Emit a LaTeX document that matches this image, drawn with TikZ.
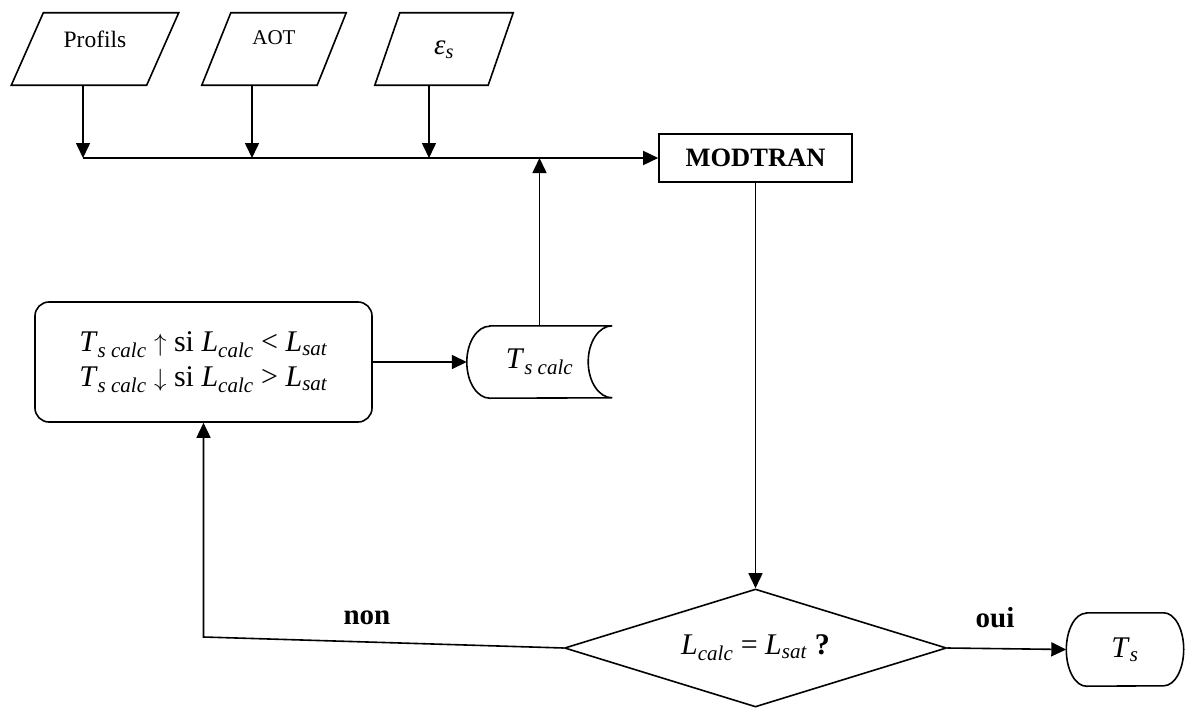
\documentclass[tikz,border=0pt]{standalone}
\usepackage{fontspec}
\setmainfont{Liberation Serif}
\usetikzlibrary{arrows.meta,shapes.geometric}
\newcommand{\paradraw}[2]{\draw[ln] ([xshift=#2]#1.north west) -- ([xshift=#2]#1.north east) -- ([xshift=-#2]#1.south east) -- ([xshift=-#2]#1.south west) -- cycle;}
\newcommand{\Tsc}{\textit{T}\textsubscript{\textit{s calc}}}
\newcommand{\Lc}{\textit{L}\textsubscript{\textit{calc}}}
\newcommand{\Ls}{\textit{L}\textsubscript{\textit{sat}}}
\begin{document}
\begin{tikzpicture}[x=1pt,y=1pt,
  ln/.style={line width=1.6pt},
  arr/.style={ln,-{Triangle[length=15pt,width=14pt]}},
  holder/.style={inner sep=0pt,draw=none},
  big/.style={font=\fontsize{30}{35}\selectfont},
  boldlab/.style={font=\fontsize{29}{33}\selectfont\bfseries}]
\path[use as bounding box] (0,0) rectangle (1186,-709);

% input parallelograms
\node[holder,minimum width=135pt,minimum height=72pt] (prof) at (95,-49) {};
\node[holder,minimum width=115pt,minimum height=72pt] (aot) at (274,-49) {};
\node[holder,minimum width=113pt,minimum height=72pt] (eps) at (444,-49) {};
\paradraw{prof}{16pt}
\paradraw{aot}{14.5pt}
\paradraw{eps}{12.5pt}
\node[font=\fontsize{23.5}{27}\selectfont] (tprof) at (95,-39) {Profils};
\node[font=\fontsize{21}{25}\selectfont] (taot) at (274,-38) {AOT};
\node[font=\fontsize{29}{33}\selectfont] (teps) at (444,-50) {\textit{ε}\textsubscript{\textit{s}}};

% bus coordinates
\coordinate (bus) at (83,-158);
\coordinate (j2) at (252,-158);
\coordinate (j3) at (429,-158);

% MODTRAN
\node[draw,ln,minimum width=193pt,minimum height=48pt,inner sep=0pt,
      font=\fontsize{26.5}{30}\selectfont\bfseries] (mod) at (755.5,-158) {MODTRAN};

% rounded box
\node[draw,ln,rounded corners=14pt,minimum width=337pt,minimum height=120pt,
      inner sep=0pt,align=left,big] (rbox) at (203.5,-362)
  {\Tsc{} $\uparrow$ si \Lc{} < \Ls\\ \Tsc{} $\downarrow$ si \Lc{} > \Ls};

% storage
\node[holder,minimum width=145pt,minimum height=72pt,big] (store) at (539.5,-362) {\Tsc};
\draw[ln] ([xshift=23pt]store.north west) -- (store.north east)
  arc[start angle=90,end angle=270,x radius=24pt,y radius=36pt]
  -- ([xshift=23pt]store.south west)
  arc[start angle=270,end angle=90,x radius=23pt,y radius=36pt] -- cycle;

% decision
\node[diamond,draw,ln,shape aspect=3.24,minimum width=382pt,minimum height=118pt,inner sep=0pt,big]
  (dia) at (755.5,-648) {\Lc{} = \Ls{} \textbf{?}};

% terminal
\node[holder,minimum width=117pt,minimum height=73pt,big] (ts) at (1125,-649.5) {\textit{T}\textsubscript{\textit{s}}};
\draw[ln] ([xshift=20pt]ts.north west) -- ([xshift=-20pt]ts.north east)
  arc[start angle=90,end angle=-90,x radius=20pt,y radius=36.5pt]
  -- ([xshift=20pt]ts.south west)
  arc[start angle=270,end angle=90,x radius=20pt,y radius=36.5pt] -- cycle;

\coordinate (coin) at (203.5,-637);

% connectors
\draw[arr] (prof.south -| bus) -- (bus);
\draw[arr] (aot.south -| j2) -- (j2);
\draw[arr] (eps.south -| j3) -- (j3);
\draw[arr] (bus) -- (mod.west);
\draw[arr] (store.north) -- (store.north |- bus);
\draw[arr] (mod.south) -- (dia.north);
\draw[arr] (dia.east) -- (ts.west);
\draw[arr] (dia.west) -- (coin) -- (rbox.south);
\draw[arr] (rbox.east) -- (store.west);

% labels
\node[boldlab] (oui) at (995,-618) {oui};
\node[boldlab] (non) at (367,-618) {non};
\end{tikzpicture}
\end{document}
